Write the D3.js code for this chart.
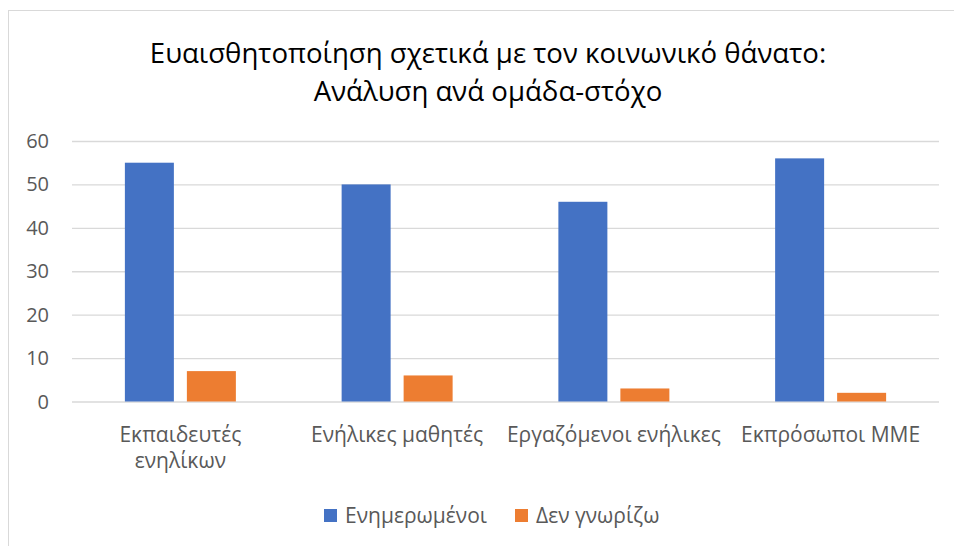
<!DOCTYPE html>
<html>
<head>
<meta charset="utf-8">
<script src="https://cdn.jsdelivr.net/npm/d3@7"></script>
<style>
  body { margin: 0; background: #fff; }
  svg { font-family: "Open Sans", "Noto Sans", sans-serif; }
</style>
</head>
<body>
<div id="chart"></div>
<script>
var titleLines = ["Ευαισθητοποίηση σχετικά με τον κοινωνικό θάνατο:", "Ανάλυση ανά ομάδα-στόχο"];
var categories = ["Εκπαιδευτές ενηλίκων", "Ενήλικες μαθητές", "Εργαζόμενοι ενήλικες", "Εκπρόσωποι ΜΜΕ"];
var categoryLines = [["Εκπαιδευτές", "ενηλίκων"], ["Ενήλικες μαθητές"], ["Εργαζόμενοι ενήλικες"], ["Εκπρόσωποι ΜΜΕ"]];
var seriesNames = ["Ενημερωμένοι", "Δεν γνωρίζω"];
var informed = [55, 50, 46, 56];
var dontKnow = [7, 6, 3, 2];
var yTicks = [0, 10, 20, 30, 40, 50, 60];

var width = 954, height = 546;
var colors = ["#4472C4", "#ED7D31"];
var values = [informed, dontKnow];

var svg = d3.select("#chart").append("svg")
    .attr("width", width)
    .attr("height", height);

// chart area border
svg.append("rect")
    .attr("x", 8.5).attr("y", 10.5)
    .attr("width", 960).attr("height", 560)
    .attr("fill", "none")
    .attr("stroke", "#d9d9d9");

// title
svg.append("g").selectAll("text")
    .data(titleLines)
    .enter().append("text")
    .attr("x", 488)
    .attr("y", function(d, i) { return 63 + i * 38; })
    .attr("text-anchor", "middle")
    .style("font-size", "27.6px")
    .style("fill", "#000")
    .text(function(d) { return d; });

var left = 72, right = 939;
var x0 = d3.scaleBand().domain(categories).range([left, right]);
var x1 = d3.scaleBand().domain(seriesNames)
    .range([0, x0.bandwidth()])
    .paddingInner(13 / 62)
    .paddingOuter(0.853);
var y = d3.scaleLinear().domain([0, 60]).range([401.5, 141]);

// gridlines
svg.append("g")
    .attr("transform", "translate(" + left + ",0)")
    .call(d3.axisLeft(y).tickValues(yTicks).tickSize(-(right - left)).tickFormat(""))
    .call(function(g) {
        g.select(".domain").remove();
        g.selectAll(".tick line").attr("stroke", "#d9d9d9").attr("stroke-width", 1.3);
    });

// y labels
svg.append("g").selectAll("text")
    .data(yTicks)
    .enter().append("text")
    .attr("x", 49)
    .attr("y", function(d) { return y(d); })
    .attr("dy", "0.35em")
    .attr("text-anchor", "end")
    .style("font-size", "20px")
    .style("fill", "#595959")
    .text(function(d) { return d; });

// bars
var groups = svg.append("g").selectAll("g")
    .data(categories)
    .enter().append("g")
    .attr("transform", function(d) { return "translate(" + x0(d) + ",0)"; });

groups.selectAll("rect")
    .data(function(d, i) {
        return seriesNames.map(function(s, j) { return { s: s, v: values[j][i], c: colors[j] }; });
    })
    .enter().append("rect")
    .attr("x", function(d) { return x1(d.s); })
    .attr("width", x1.bandwidth())
    .attr("y", function(d) { return y(d.v); })
    .attr("height", function(d) { return y(0) - y(d.v); })
    .attr("fill", function(d) { return d.c; });

// category labels
var catLabels = svg.append("g").selectAll("text")
    .data(categories)
    .enter().append("text")
    .attr("text-anchor", "middle")
    .style("font-size", "21px")
    .style("fill", "#595959");

catLabels.selectAll("tspan")
    .data(function(d, i) {
        return categoryLines[i].map(function(t) { return { t: t, c: d }; });
    })
    .enter().append("tspan")
    .attr("x", function(d) { return x0(d.c) + x0.bandwidth() / 2; })
    .attr("y", function(d, i) { return 442 + i * 26; })
    .text(function(d) { return d.t; });

// legend
var legendX = [324, 515];
var legend = svg.append("g").selectAll("g")
    .data(seriesNames)
    .enter().append("g")
    .attr("transform", function(d, i) { return "translate(" + legendX[i] + ",509)"; });

legend.append("rect")
    .attr("width", 13)
    .attr("height", 13)
    .attr("fill", function(d, i) { return colors[i]; });

legend.append("text")
    .attr("x", 21)
    .attr("y", 13.5)
    .style("font-size", "21px")
    .style("fill", "#595959")
    .text(function(d) { return d; });
</script>
</body>
</html>
